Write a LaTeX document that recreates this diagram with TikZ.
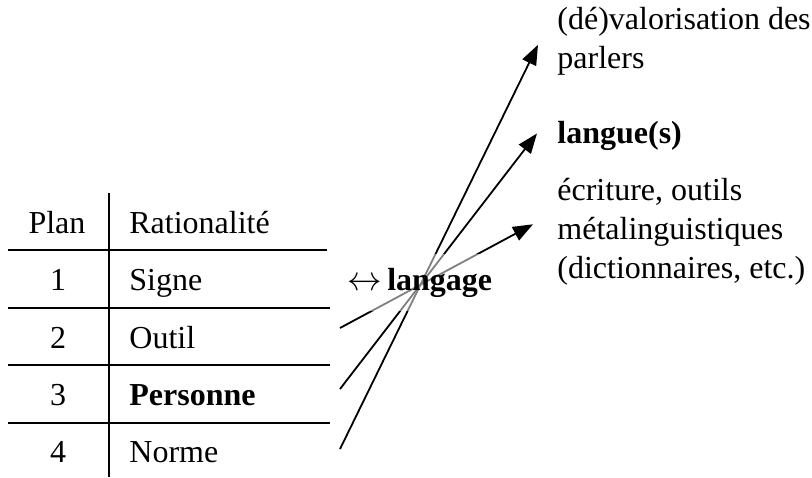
\documentclass[tikz,border=0pt]{standalone}
\usepackage{fontspec}
\setmainfont{Liberation Serif}
\usetikzlibrary{arrows.meta,positioning}

\begin{document}
\begin{tikzpicture}[x=0.5pt,y=-0.5pt,
  cell/.style={font=\fontsize{16}{19.5}\selectfont, inner sep=0pt},
  rule/.style={line width=0.9pt},
  arr/.style={line width=0.9pt, -{Triangle[length=10pt,width=7.5pt]}}]
  \useasboundingbox (0,0) rectangle (812,477);

  % Table rules
  \draw[line width=1pt] (109,193) -- (109,477);
  \draw[line width=1.2pt] (8,250) -- (327,250);
  \draw[rule] (8,308) -- (330,308);
  \draw[rule] (8,365) -- (330,365);
  \draw[rule] (8,423) -- (330,423);

  % Header row
  \node[cell, anchor=base] (plan) at (57,233) {Plan};
  \node[cell, anchor=base west] (ratio) at (129,233) {Rationalité};

  % Rows
  \node[cell, anchor=base] (n1) at (58,290) {1};
  \node[cell, anchor=base west] (r1) at (129,290) {Signe};
  \node[cell, anchor=base] (n2) at (58,348) {2};
  \node[cell, anchor=base west] (r2) at (129,348) {Outil};
  \node[cell, anchor=base] (n3) at (58,405) {3};
  \node[cell, anchor=base west, font=\fontsize{16}{19.5}\selectfont\bfseries] (r3) at (129,405) {Personne};
  \node[cell, anchor=base] (n4) at (58,462) {4};
  \node[cell, anchor=base west] (r4) at (129,462) {Norme};

  % Targets on the right
  \node[cell, anchor=base west, align=left] (val) at (557,68) {(dé)valorisation des\\parlers};
  \node[cell, anchor=base west, font=\fontsize{16}{19.5}\selectfont\bfseries] (langue) at (557,143) {langue(s)};
  \node[cell, anchor=base west, align=left] (ecr) at (557,278) {écriture, outils\\métalinguistiques\\(dictionnaires, etc.)};

  % Crossing arrows
  \coordinate (s1) at (340,328);
  \coordinate (s2) at (340,389);
  \coordinate (s3) at (340,449);
  \draw[arr] (s1) -- ([xshift=-12pt,yshift=3.5pt]ecr.west);
  \draw[arr] (s2) -- ([xshift=-10pt,yshift=1pt]langue.west);
  \draw[arr] (s3) -- ([xshift=-9.5pt,yshift=-2pt]val.west);

  % Centre word over the crossing
  \node[cell, anchor=base west, fill=white, fill opacity=0.5, text opacity=1,
        inner xsep=1pt, inner ysep=7pt] (lang) at (345,290) {$\leftrightarrow$\,\textbf{langage}};
\end{tikzpicture}
\end{document}
